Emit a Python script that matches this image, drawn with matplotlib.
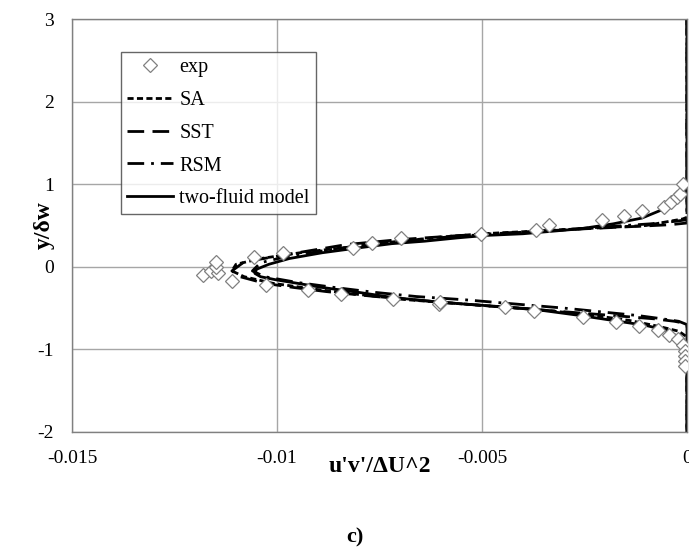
import matplotlib
matplotlib.use('Agg')
import matplotlib.pyplot as plt

plt.rcParams['font.family'] = ['Liberation Serif', 'DejaVu Serif']
plt.rcParams['axes.unicode_minus'] = False

# experimental points (u'v'/dU^2, y/dw)
exp_x = [-0.0118, -0.0116, -0.01145, -0.0115, -0.0115, -0.0111, -0.01056, -0.01027,
         -0.00985, -0.00924, -0.00844, -0.00815, -0.00768, -0.00717, -0.00698, -0.00605,
         -0.00602, -0.00502, -0.00444, -0.00373, -0.00368, -0.00337, -0.00254, -0.00207,
         -0.00173, -0.00154, -0.00117, -0.0011, -0.00071, -0.00056, -0.00044, -0.00039,
         -0.00024, -0.00022, -0.00017, -0.0001, -0.0001, -0.00005, -0.00004, -0.00004, -0.00004]
exp_y = [-0.10, -0.05, -0.07, 0.0, 0.06, -0.17, 0.12, -0.22,
         0.17, -0.28, -0.33, 0.23, 0.29, -0.39, 0.35, -0.45,
         -0.43, 0.40, -0.49, -0.54, 0.45, 0.51, -0.61, 0.57,
         -0.67, 0.62, -0.72, 0.68, -0.77, 0.73, -0.82, 0.78,
         0.84, -0.88, 0.88, 1.00, -0.95, -1.02, -1.08, -1.14, -1.20]

# SA model
sa_y = [3.0, 0.60, 0.58, 0.50, 0.45, 0.40, 0.36, 0.30, 0.24, 0.18, 0.10, 0.03, -0.05,
        -0.12, -0.20, -0.27, -0.33, -0.40, -0.46, -0.52, -0.58, -0.65, -0.72, -0.78, -0.85, -2.0]
sa_x = [0, 0, -0.0001, -0.0010, -0.0030, -0.0050, -0.0060, -0.0072, -0.0082, -0.0093, -0.0104, -0.0110, -0.0111,
        -0.0108, -0.0101, -0.0091, -0.0081, -0.0068, -0.0052, -0.0036, -0.0024, -0.0014, -0.0007, -0.0002, 0, 0]

# SST model
sst_y = [3.0, 0.53, 0.51, 0.49, 0.46, 0.42, 0.38, 0.33, 0.27, 0.17, 0.06, -0.05,
         -0.12, -0.20, -0.25, -0.30, -0.36, -0.42, -0.48, -0.54, -0.59, -0.63, -0.66, -0.69, -2.0]
sst_x = [0, 0, -0.0004, -0.0012, -0.0025, -0.0040, -0.0055, -0.0070, -0.0083, -0.0095, -0.0108, -0.0111,
         -0.0109, -0.0103, -0.0096, -0.0088, -0.0076, -0.0062, -0.0047, -0.0031, -0.0018, -0.0008, -0.0003, 0, 0]

# RSM model
rsm_y = [3.0, 0.57, 0.55, 0.52, 0.49, 0.45, 0.41, 0.37, 0.32, 0.27, 0.20, 0.12, 0.05, -0.05,
         -0.12, -0.19, -0.25, -0.31, -0.36, -0.40, -0.45, -0.50, -0.55, -0.59, -0.63, -0.66, -0.70, -2.0]
rsm_x = [0, 0, -0.0003, -0.0009, -0.0018, -0.0030, -0.0043, -0.0056, -0.0068, -0.0078, -0.0088, -0.0098, -0.0104, -0.0106,
         -0.0103, -0.0095, -0.0086, -0.0076, -0.0066, -0.0054, -0.0042, -0.0030, -0.0020, -0.0012, -0.0006, -0.0002, 0, 0]

# two-fluid model
tf_y = [3.0, 1.0, 0.96, 0.86, 0.76, 0.68, 0.59, 0.52, 0.46, 0.40, 0.38, 0.35, 0.31, 0.28, 0.23, 0.17, 0.10, 0.03,
        -0.03, -0.08, -0.12, -0.16, -0.20, -0.25, -0.31, -0.37, -0.43, -0.47, -0.51, -0.59, -0.65, -0.71,
        -0.77, -0.86, -0.98, -2.0]
tf_x = [0, 0, -0.00002, -0.0001, -0.00034, -0.00066, -0.0011, -0.0018, -0.0026, -0.0040, -0.0049, -0.0056, -0.0064, -0.0072,
        -0.0080, -0.0089, -0.0097, -0.0102, -0.0105, -0.01054, -0.0104, -0.0100, -0.0095, -0.0089, -0.0080, -0.0072,
        -0.0060, -0.0049, -0.0038, -0.0026, -0.0018, -0.0010, -0.0005, -0.00017, 0, 0]

xticks = [-0.015, -0.01, -0.005, 0]
xtick_labels = ['-0.015', '-0.01', '-0.005', '0']
yticks = [-2, -1, 0, 1, 2, 3]

fig = plt.figure(figsize=(6.89, 5.48), dpi=100)
ax = fig.add_axes([72 / 689, 1 - 432 / 548, 615 / 689, 413 / 548])

ax.plot(exp_x, exp_y, linestyle='none', marker='D', markersize=7.3,
        markerfacecolor='white', markeredgecolor='#808080', markeredgewidth=0.9,
        label='exp', zorder=5)
ax.plot(sa_x, sa_y, color='black', linewidth=2, linestyle=(0, (2.2, 1.2)), label='SA')
ax.plot(sst_x, sst_y, color='black', linewidth=2, linestyle=(0, (6, 3)), label='SST')
ax.plot(rsm_x, rsm_y, color='black', linewidth=2, linestyle=(0, (6, 2.5, 1, 2.5)), label='RSM')
ax.plot(tf_x, tf_y, color='black', linewidth=2, linestyle='-', label='two-fluid model')

ax.set_xlim(-0.015, 0)
ax.set_ylim(-2, 3)
ax.set_xticks(xticks)
ax.set_xticklabels(xtick_labels)
ax.set_yticks(yticks)
ax.grid(True, color='#a6a6a6', linewidth=1)
ax.set_axisbelow(True)
ax.tick_params(length=0, labelsize=14, pad=13)
for s in ax.spines.values():
    s.set_color('#808080')
    s.set_linewidth(1)

ax.set_xlabel("u'v'/ΔU^2", fontsize=17, fontweight='bold')
ax.xaxis.set_label_coords(0.5, -0.058)
ax.set_ylabel('y/δw', fontsize=17, fontweight='bold')
ax.yaxis.set_label_coords(-0.028, 0.5)

leg = ax.legend(loc='upper left', bbox_to_anchor=((121 - 72) / 615, (432 - 52) / 413),
                fontsize=14.5, frameon=True, fancybox=False, handlelength=2.3,
                handletextpad=0.3, labelspacing=0.68, borderpad=0.3, borderaxespad=0)
leg.get_frame().set_edgecolor('#404040')
leg.get_frame().set_linewidth(1)

fig.text(355 / 689, 1 - 537 / 548, 'c)', fontsize=16, fontweight='bold', ha='center', va='center')

fig.savefig('out.png', dpi=100)
